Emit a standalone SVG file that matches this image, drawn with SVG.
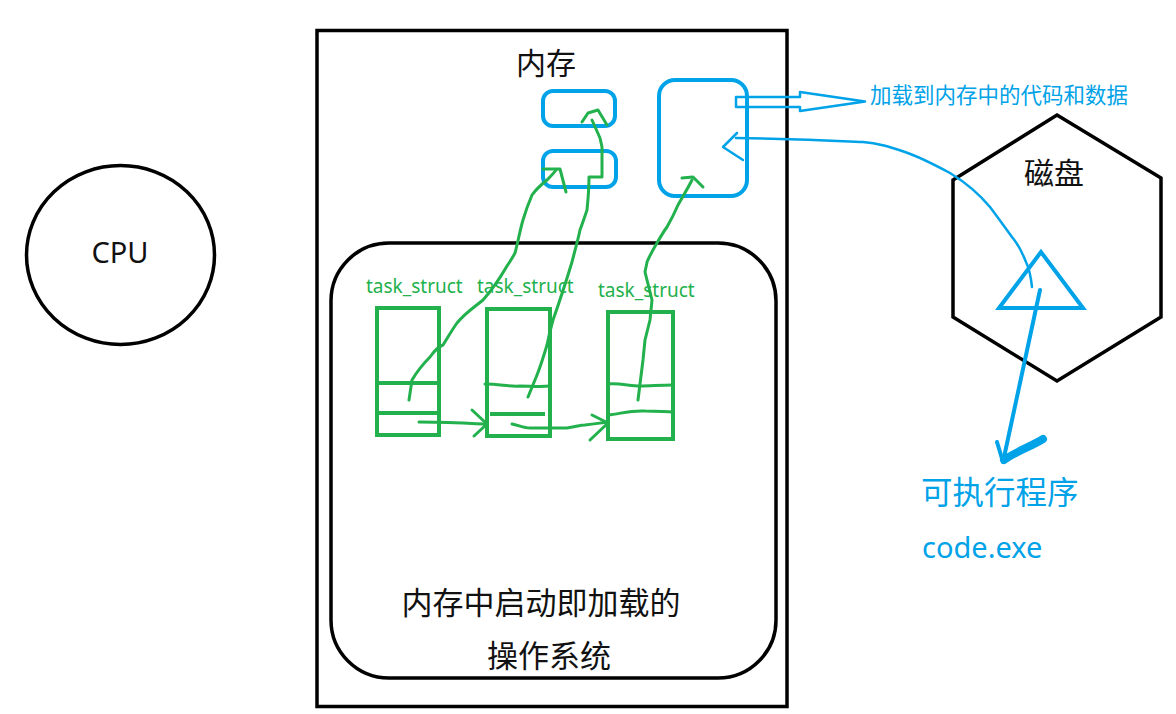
<svg xmlns="http://www.w3.org/2000/svg" width="1176" height="714" viewBox="0 0 1176 714">
<style>
.blk{fill:none;stroke:#000;stroke-width:3.5}
.bl{fill:none;stroke:#00a2e8;stroke-width:4}
.blt{fill:none;stroke:#00a2e8;stroke-width:2.5;stroke-linecap:round;stroke-linejoin:round}
.gr{fill:none;stroke:#22b14c;stroke-width:4}
.grt{fill:none;stroke:#22b14c;stroke-width:3;stroke-linecap:round;stroke-linejoin:round}
.t{font-family:"Noto Sans","Noto Sans CJK SC",sans-serif;fill:#111}
.tb{font-family:"Noto Sans","Noto Sans CJK SC",sans-serif;fill:#00a2e8}
.tg{font-family:"Noto Sans","Noto Sans CJK SC",sans-serif;fill:#22b14c;font-size:19px}
</style>
<rect width="1176" height="714" fill="#fff"/>
<g id="cpu">
<ellipse class="blk" cx="120.5" cy="255" rx="94" ry="89.5"/>
<text class="t" x="120" y="263" font-size="29" text-anchor="middle">CPU</text>
</g>
<g id="memory">
<rect class="blk" x="317" y="30.5" width="470" height="676"/>
<text class="t" x="546" y="74" font-size="30" text-anchor="middle">内存</text>
</g>
<g id="os">
<rect class="blk" x="331" y="243" width="445" height="435" rx="58" ry="58"/>
<text class="t" x="541" y="614" font-size="31" text-anchor="middle">内存中启动即加载的</text>
<text class="t" x="549" y="667" font-size="31" text-anchor="middle">操作系统</text>
</g>
<g id="mem-block-1"><rect class="bl" x="543" y="91" width="72" height="35" rx="10"/></g>
<g id="mem-block-2"><rect class="bl" x="543" y="151" width="73" height="36" rx="10"/></g>
<g id="code-data">
<rect class="bl" x="659" y="80" width="88" height="116" rx="16"/>
<text class="tb" x="870" y="103" font-size="21.5">加载到内存中的代码和数据</text>
</g>
<g id="task1">
<text class="tg" x="366" y="293">task_struct</text>
<rect class="gr" x="377" y="308" width="62" height="127"/>
<line class="gr" x1="377" y1="383" x2="439" y2="383" stroke-width="3"/>
<line class="gr" x1="377" y1="413" x2="439" y2="413" stroke-width="3"/>
</g>
<g id="task2">
<text class="tg" x="477" y="293">task_struct</text>
<rect class="gr" x="487" y="309" width="63" height="127"/>
<path class="grt" d="M485 384 C500 384 510 387 520 386 C530 386 540 387 550 386"/>
<line class="gr" x1="490" y1="414" x2="545" y2="414" stroke-width="3"/>
</g>
<g id="task3">
<text class="tg" x="598" y="297">task_struct</text>
<rect class="gr" x="608" y="312" width="65" height="127"/>
<path class="grt" d="M608 384 C620 383 630 386 640 386 C650 386 660 385 673 385"/>
<path class="grt" d="M608 415 C620 414 630 410 645 411 C658 411 665 412 673 412"/>
</g>
<g id="disk">
<polygon class="blk" points="1057,115 1161,178 1161,317 1057,381 953,317 953,180"/>
<text class="t" x="1054" y="184" font-size="30" text-anchor="middle">磁盘</text>
<polygon class="bl" points="1041,252 999,308 1083,308"/>
</g>
<g id="exe-label">
<text class="tb" x="921" y="504" font-size="31.5">可执行程序</text>
<text class="tb" x="922" y="558" font-size="29">code.exe</text>
</g>
<g id="connectors">
<path class="blt" stroke-width="3.5" d="M736 97 L800 97 L800 92 L865 101.5 L800 111 L800 107 L736 107 Z"/>
<path class="blt" d="M1032 287 C1031 278 1030 270 1026 262 C1022 252 1018 244 1012 237 C1004 226 996 215 990 207 C980 195 968 184 950 173 C935 165 920 157 905 152 C890 147 878 143 863 142 C840 141 800 139 736 138"/>
<path class="blt" d="M737 133 L723 147 L743 160"/>
<path class="bl" stroke-width="4" stroke-linecap="round" d="M1040 290 L1003 462"/>
<path class="bl" stroke-width="4.5" stroke-linecap="round" d="M997 442 L1003 462"/>
<path fill="none" stroke="#00a2e8" stroke-width="8" stroke-linecap="round" d="M1004 460 C1015 452 1030 447 1043 439"/>
<path class="grt" d="M409 400 L412 380 C418 370 425 362 430 357 C435 350 440 346 443 345 C448 337 452 330 457 323 C466 312 476 306 483 300 C492 290 500 278 507 266 C511 260 513 257 515 253 C518 242 520 230 523 220 C526 210 529 202 532 195 C537 188 542 184 547 180 C551 176 554 173 556 170"/>
<path class="grt" d="M543 169 L560 169 L566 192"/>
<path class="grt" d="M528 397 L537 375 C541 365 544 355 547 345 C549 335 551 327 553 320 C558 306 565 285 572 262 C575 250 578 240 580 230 C583 222 585 216 587 210 C588 200 589 190 589 177 L602 177 L602 147 L600 138 L592 120"/>
<path class="grt" d="M582 122 L588 113 L598 110 L607 125"/>
<path class="grt" d="M638 400 L643 360 L645 340 L650 320 L652 300 L645 272 C646 266 647 264 647 262 C650 255 654 248 657 243 C661 236 664 231 667 227 C671 220 675 212 678 205 C683 196 688 188 692 180"/>
<path class="grt" d="M682 178 L693 177 L703 187"/>
<path class="grt" d="M419 422 C440 422 460 423 486 424"/>
<path class="grt" d="M472 410 L487 424 L474 436"/>
<path class="grt" d="M512 424 C518 425 524 428 530 428 C545 428 556 428 567 428 C575 427 580 425 585 425 C595 424 600 423 608 422"/>
<path class="grt" d="M592 415 L608 423 L590 440"/>
</g>
</svg>
